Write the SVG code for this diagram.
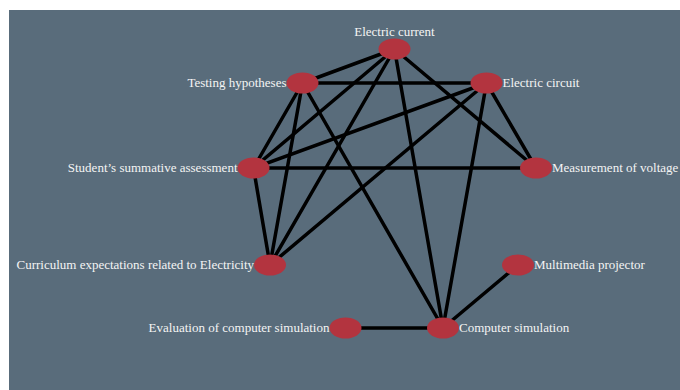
<svg xmlns="http://www.w3.org/2000/svg" width="680" height="390" viewBox="0 0 680 390">
<style>
.edge{stroke:#000;stroke-width:3.5;stroke-linecap:round}
.node{fill:#b3343f}
.lbl{font-family:"Liberation Serif","Times New Roman",serif;font-size:13px;fill:#f4f4f4}
.r{text-anchor:end}
.l{text-anchor:start}
.m{text-anchor:middle}
</style>
<rect x="0" y="0" width="680" height="390" fill="#ffffff"/>
<rect x="9" y="10" width="671" height="380" fill="#596c7b"/>
<g id="connectors">
<line class="edge" x1="394.5" y1="49" x2="302.5" y2="83"/>
<line class="edge" x1="394.5" y1="49" x2="253.5" y2="168"/>
<line class="edge" x1="394.5" y1="49" x2="270" y2="265"/>
<line class="edge" x1="394.5" y1="49" x2="443" y2="328"/>
<line class="edge" x1="394.5" y1="49" x2="536" y2="168"/>
<line class="edge" x1="302.5" y1="83" x2="486.5" y2="83"/>
<line class="edge" x1="302.5" y1="83" x2="253.5" y2="168"/>
<line class="edge" x1="302.5" y1="83" x2="270" y2="265"/>
<line class="edge" x1="302.5" y1="83" x2="443" y2="328"/>
<line class="edge" x1="486.5" y1="83" x2="253.5" y2="168"/>
<line class="edge" x1="486.5" y1="83" x2="270" y2="265"/>
<line class="edge" x1="486.5" y1="83" x2="443" y2="328"/>
<line class="edge" x1="486.5" y1="83" x2="536" y2="168"/>
<line class="edge" x1="253.5" y1="168" x2="536" y2="168"/>
<line class="edge" x1="253.5" y1="168" x2="270" y2="265"/>
<line class="edge" x1="345.5" y1="328" x2="443" y2="328"/>
<line class="edge" x1="518" y1="265" x2="443" y2="328"/>
</g>
<g id="n-electric-current"><ellipse class="node" cx="394.5" cy="49" rx="16" ry="10.5"/><text class="lbl m" x="394.5" y="35.5">Electric current</text></g>
<g id="n-testing-hypotheses"><ellipse class="node" cx="302.5" cy="83" rx="16" ry="10.5"/><text class="lbl r" x="286.5" y="87">Testing hypotheses</text></g>
<g id="n-electric-circuit"><ellipse class="node" cx="486.5" cy="83" rx="16" ry="10.5"/><text class="lbl l" x="502.5" y="87">Electric circuit</text></g>
<g id="n-students-summative"><ellipse class="node" cx="253.5" cy="168" rx="16" ry="10.5"/><text class="lbl r" x="237.5" y="172">Student’s summative assessment</text></g>
<g id="n-measurement-voltage"><ellipse class="node" cx="536" cy="168" rx="16" ry="10.5"/><text class="lbl l" x="552" y="172">Measurement of voltage</text></g>
<g id="n-curriculum"><ellipse class="node" cx="270" cy="265" rx="16" ry="10.5"/><text class="lbl r" x="254" y="269">Curriculum expectations related to Electricity</text></g>
<g id="n-multimedia"><ellipse class="node" cx="518" cy="265" rx="16" ry="10.5"/><text class="lbl l" x="534" y="269">Multimedia projector</text></g>
<g id="n-evaluation"><ellipse class="node" cx="345.5" cy="328" rx="16" ry="10.5"/><text class="lbl r" x="329.5" y="332">Evaluation of computer simulation</text></g>
<g id="n-computer-simulation"><ellipse class="node" cx="443" cy="328" rx="16" ry="10.5"/><text class="lbl l" x="459" y="332">Computer simulation</text></g>
</svg>
